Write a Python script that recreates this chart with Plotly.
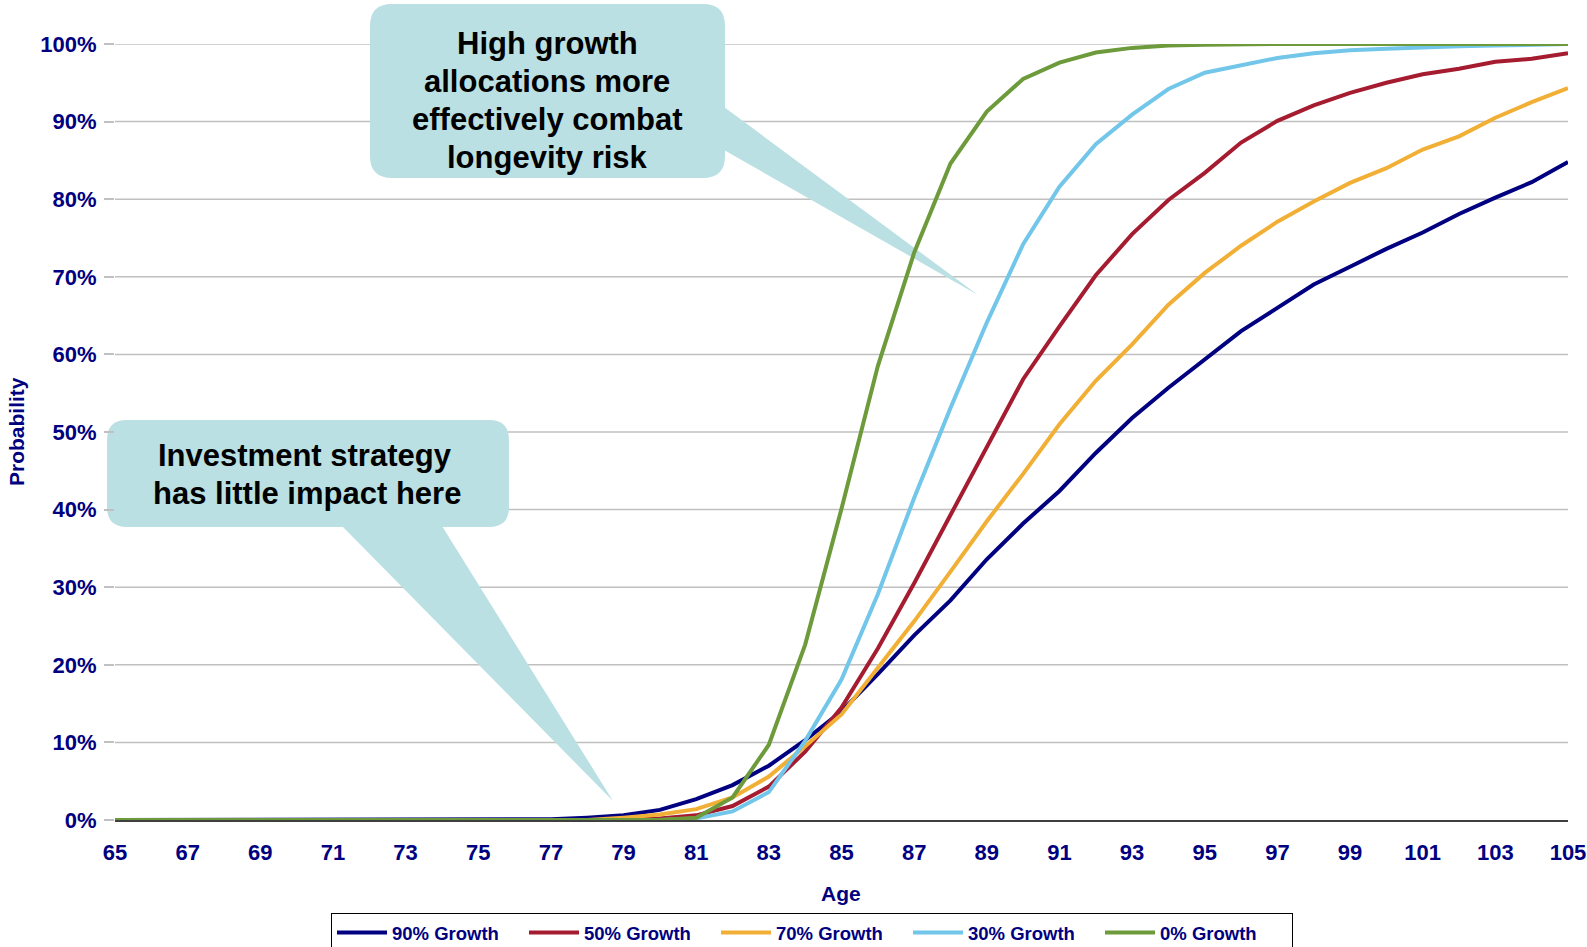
import plotly.graph_objects as go

# Age axis and probability of portfolio depletion by age for each allocation
ages = list(range(65, 106))

growth_90 = [0, 0, 0, 0, 0, 0, 0, 0, 0, 0, 0, 0,
             0.001, 0.003, 0.006, 0.013, 0.027, 0.045, 0.070, 0.103, 0.140, 0.188,
             0.238, 0.283, 0.336, 0.382, 0.424, 0.473, 0.518, 0.557, 0.594, 0.630,
             0.660, 0.690, 0.713, 0.736, 0.757, 0.781, 0.802, 0.822, 0.848]
growth_50 = [0, 0, 0, 0, 0, 0, 0, 0, 0, 0, 0, 0, 0, 0, 0,
             0.002, 0.006, 0.018, 0.043, 0.088, 0.145, 0.221, 0.305, 0.393, 0.480,
             0.568, 0.636, 0.702, 0.755, 0.799, 0.834, 0.873, 0.901, 0.921, 0.937,
             0.950, 0.961, 0.968, 0.977, 0.981, 0.988]
growth_70 = [0, 0, 0, 0, 0, 0, 0, 0, 0, 0, 0, 0, 0, 0,
             0.003, 0.007, 0.014, 0.029, 0.056, 0.095, 0.136, 0.196, 0.256, 0.320,
             0.385, 0.446, 0.510, 0.566, 0.613, 0.664, 0.705, 0.740, 0.771, 0.797,
             0.821, 0.840, 0.864, 0.881, 0.905, 0.925, 0.943]
growth_30 = [0, 0, 0, 0, 0, 0, 0, 0, 0, 0, 0, 0, 0, 0, 0, 0,
             0.002, 0.011, 0.036, 0.102, 0.181, 0.291, 0.415, 0.531, 0.641, 0.742,
             0.816, 0.871, 0.909, 0.942, 0.963, 0.973, 0.982, 0.988, 0.992, 0.994,
             0.996, 0.997, 0.998, 0.999, 1.0]
growth_0 = [0, 0, 0, 0, 0, 0, 0, 0, 0, 0, 0, 0, 0, 0, 0, 0,
            0.003, 0.029, 0.097, 0.226, 0.401, 0.585, 0.731, 0.846, 0.913, 0.955,
            0.976, 0.989, 0.995, 0.998, 0.999, 1.0, 1.0, 1.0, 1.0, 1.0,
            1.0, 1.0, 1.0, 1.0, 1.0]

series_names = ["90% Growth", "50% Growth", "70% Growth", "30% Growth", "0% Growth"]
series_values = [growth_90, growth_50, growth_70, growth_30, growth_0]
series_colors = ["#000080", "#A51C30", "#F1B035", "#72C6E9", "#6D9A3B"]

x_ticks = list(range(65, 106, 2))
y_ticks = [i / 10 for i in range(11)]

FONT = "Liberation Sans, Arial, Helvetica, sans-serif"
NAVY = "#000080"
CALLOUT = "#BAE0E3"

W_FIG, H_FIG = 1587, 947
M_L, M_R, M_T, M_B = 115, 19, 44, 127
PW = W_FIG - M_L - M_R
PH = H_FIG - M_T - M_B
BOTTOM = M_T + PH


def to_paper(px, py):
    """Convert page pixel position to paper coordinates."""
    return (px - M_L) / PW, (BOTTOM - py) / PH


def path_from(points_cmds):
    parts = []
    for cmd, pts in points_cmds:
        coords = " ".join("%.5f,%.5f" % to_paper(*p) for p in pts)
        parts.append(cmd + coords)
    return " ".join(parts) + " Z"


def rounded_box(x0, y0, x1, y1, r):
    return path_from([
        ("M", [(x0 + r, y0)]),
        ("L", [(x1 - r, y0)]),
        ("Q", [(x1, y0), (x1, y0 + r)]),
        ("L", [(x1, y1 - r)]),
        ("Q", [(x1, y1), (x1 - r, y1)]),
        ("L", [(x0 + r, y1)]),
        ("Q", [(x0, y1), (x0, y1 - r)]),
        ("L", [(x0, y0 + r)]),
        ("Q", [(x0, y0), (x0 + r, y0)]),
    ])


def tail(a, tip, b):
    return path_from([("M", [a]), ("L", [tip]), ("L", [b])])


fig = go.Figure()
for name, vals, color in zip(series_names, series_values, series_colors):
    fig.add_trace(go.Scatter(
        x=ages, y=vals, name=name, mode="lines",
        line=dict(color=color, width=4),
        cliponaxis=False,
    ))

shapes = []
# horizontal gridlines (kept beneath the callouts)
for v in y_ticks[1:]:
    shapes.append(dict(type="line", xref="paper", yref="y", x0=0, x1=1, y0=v, y1=v,
                       line=dict(color="#C0C0C0", width=1.5), layer="below"))

# callout bubbles
shapes.append(dict(type="path", xref="paper", yref="paper", layer="below",
                   path=rounded_box(370, 4, 725, 178, 22),
                   fillcolor=CALLOUT, line=dict(width=0)))
shapes.append(dict(type="path", xref="paper", yref="paper", layer="below",
                   path=tail((724, 107), (978, 295), (724, 150)),
                   fillcolor=CALLOUT, line=dict(width=0)))
shapes.append(dict(type="path", xref="paper", yref="paper", layer="below",
                   path=rounded_box(107, 420, 509, 527, 20),
                   fillcolor=CALLOUT, line=dict(width=0)))
shapes.append(dict(type="path", xref="paper", yref="paper", layer="below",
                   path=tail((342, 526), (613, 801), (442, 526)),
                   fillcolor=CALLOUT, line=dict(width=0)))

annotations = []
callout_lines = [
    ("High growth", 547, 43),
    ("allocations more", 547, 81),
    ("effectively combat", 547, 119.5),
    ("longevity risk", 547, 157),
    ("Investment strategy", 305, 455.5),
    ("has little impact here", 307, 494),
]
for text, cx, cy in callout_lines:
    px, py = to_paper(cx, cy)
    annotations.append(dict(text=text, x=px, y=py, xref="paper", yref="paper",
                            xanchor="center", yanchor="middle", showarrow=False,
                            font=dict(family=FONT, size=31, color="black", weight="bold")))

# axis titles
px, py = to_paper(16, 432)
annotations.append(dict(text="Probability", x=px, y=py, xref="paper", yref="paper",
                        xanchor="center", yanchor="middle", showarrow=False, textangle=-90,
                        font=dict(family=FONT, size=21, color=NAVY, weight="bold")))
px, py = to_paper(841, 893)
annotations.append(dict(text="Age", x=px, y=py, xref="paper", yref="paper",
                        xanchor="center", yanchor="middle", showarrow=False,
                        font=dict(family=FONT, size=21, color=NAVY, weight="bold")))

lx, ly = to_paper(812, 913)

fig.update_layout(
    width=W_FIG, height=H_FIG,
    margin=dict(l=M_L, r=M_R, t=M_T, b=M_B, autoexpand=False),
    paper_bgcolor="white", plot_bgcolor="white",
    font=dict(family=FONT, color=NAVY),
    shapes=shapes,
    annotations=annotations,
    showlegend=True,
    legend=dict(
        orientation="h", x=lx, y=ly, xanchor="center", yanchor="top",
        bordercolor="black", borderwidth=1, bgcolor="white",
        font=dict(family=FONT, size=18.5, color=NAVY, weight="bold"),
        entrywidth=127, entrywidthmode="pixels",
        itemwidth=50,
    ),
    xaxis=dict(
        range=[65, 105], tickvals=x_ticks, ticktext=[str(t) for t in x_ticks],
        showgrid=False, zeroline=False, showline=True, linecolor="#3F3F3F", linewidth=2,
        ticks="", ticklabelstandoff=12, layer="below traces",
        tickfont=dict(family=FONT, size=22, color=NAVY, weight="bold"),
        fixedrange=True,
    ),
    yaxis=dict(
        range=[0, 1], tickvals=y_ticks, tickformat=".0%",
        showgrid=False, zeroline=False, showline=False,
        ticks="outside", ticklen=10, tickwidth=1.5, tickcolor="#C0C0C0",
        ticklabelstandoff=3, layer="below traces",
        tickfont=dict(family=FONT, size=22, color=NAVY, weight="bold"),
        fixedrange=True,
    ),
)

fig.write_html("out.html")
